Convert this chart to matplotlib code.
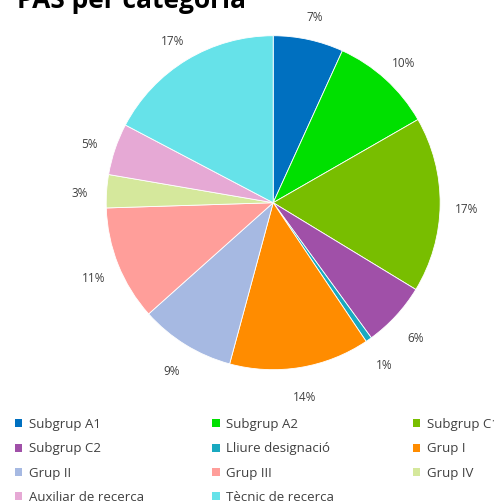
import matplotlib.pyplot as plt
from matplotlib.patches import Patch

plt.rcParams['font.family'] = ['Open Sans', 'DejaVu Sans']

categories = ['Subgrup A1', 'Subgrup A2', 'Subgrup C1', 'Subgrup C2',
              'Lliure designació', 'Grup I', 'Grup II', 'Grup III',
              'Grup IV', 'Auxiliar de recerca', 'Tècnic de recerca']
shares = [6.8, 9.9, 17.0, 6.3, 0.6, 13.6, 9.2, 11.1, 3.2, 5.0, 17.3]
colors = ['#0070C0', '#00E000', '#78BE00', '#A050A8', '#19A9C0', '#FF8C00',
          '#A6B9E2', '#FF9E9A', '#D5E89C', '#E6A9D5', '#66E2E9']

fig = plt.figure(figsize=(4.94, 5.03), dpi=100)
ax = fig.add_axes([0.215, 0.265, 0.676, 0.664])

wedges, texts, autotexts = ax.pie(
    shares, colors=colors, startangle=90, counterclock=False,
    autopct='%.0f%%', pctdistance=1.16,
    wedgeprops=dict(linewidth=0.6, edgecolor='white'),
    textprops=dict(fontsize=8.5, color='#404040'))
# excel sets its labels a little lower than the wedge middle
for t in autotexts:
    x, y = t.get_position()
    t.set_position((x, y - 0.025))
ax.set_xlim(-1, 1)
ax.set_ylim(-1, 1)
ax.set_aspect('equal')

fig.text(0.034, 0.984, 'PAS per categoria', fontsize=19, fontweight='bold',
         ha='left', va='baseline', color='black')

# legend is read row by row: three single-column legends, one per column
col_x = [0.030, 0.430, 0.836]
for c, x in enumerate(col_x):
    idx = list(range(c, len(categories), 3))
    handles = [Patch(facecolor=colors[i], edgecolor='none') for i in idx]
    labels = [categories[i] for i in idx]
    fig.legend(handles, labels, loc='upper left', bbox_to_anchor=(x, 0.169),
               frameon=False, fontsize=9.5, labelcolor='#404040',
               handlelength=0.55, handleheight=0.55, handletextpad=0.5,
               labelspacing=0.86, borderaxespad=0, borderpad=0)

fig.savefig('out.png', dpi=100)
